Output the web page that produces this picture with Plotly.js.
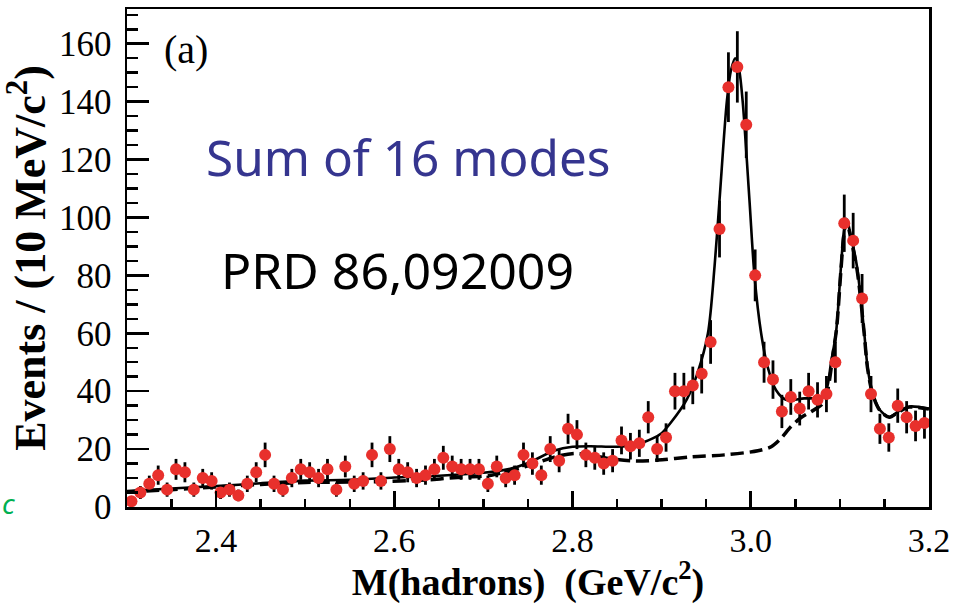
<!DOCTYPE html>
<html>
<head>
<meta charset="utf-8">
<script src="https://cdn.plot.ly/plotly-3.0.1.min.js"></script>
<style>html,body{margin:0;padding:0;background:#fff;}#chart{width:955px;height:604px;}</style>
</head>
<body>
<div id="chart"></div>
<script>
// Bin centres (10 MeV bins from 2.30 to 3.20 GeV/c^2)
const binCenters = [
 2.305,2.315,2.325,2.335,2.345,2.355,2.365,2.375,2.385,2.395,
 2.405,2.415,2.425,2.435,2.445,2.455,2.465,2.475,2.485,2.495,
 2.505,2.515,2.525,2.535,2.545,2.555,2.565,2.575,2.585,2.595,
 2.605,2.615,2.625,2.635,2.645,2.655,2.665,2.675,2.685,2.695,
 2.705,2.715,2.725,2.735,2.745,2.755,2.765,2.775,2.785,2.795,
 2.805,2.815,2.825,2.835,2.845,2.855,2.865,2.875,2.885,2.895,
 2.905,2.915,2.925,2.935,2.945,2.955,2.965,2.975,2.985,2.995,
 3.005,3.015,3.025,3.035,3.045,3.055,3.065,3.075,3.085,3.095,
 3.105,3.115,3.125,3.135,3.145,3.155,3.165,3.175,3.185,3.195];
// Events per bin
const events = [
 2,5,8,11,6,13,12,6,10,9,
 5,6,4,8,12,18,8,6,10,13,
 12,10,13,6,14,8,9,18,9,20,
 13,12,10,11,13,17,14,13,13,13,
 8,14,10,11,18,15,11,20,16,27,
 25,18,17,15,16,23,21,22,31,20,
 24,40,40,42,46,57,96,145,152,132,
 80,50,44,33,38,34,40,37,39,50,
 98,92,72,39,27,24,35,31,28,29];
// Total fit curve (solid)
const fitX = [2.30,2.35,2.40,2.45,2.50,2.55,2.60,2.65,2.70,2.73,2.75,2.78,2.80,2.82,2.85,2.87,2.89,2.90,2.91,2.928,2.94,2.952,2.9594,2.965,2.9732,2.978,2.9826,2.987,2.991,2.9986,3.0042,3.0117,3.019,3.0285,3.0397,3.06,3.079,3.0826,3.0863,3.090,3.0957,3.1013,3.1045,3.1075,3.1115,3.1193,3.1237,3.1275,3.1311,3.1368,3.145,3.1555,3.1667,3.178,3.20];
const fitY = [5.5,6.4,7.2,8.2,9.1,9.4,10.2,10.8,11.8,13.2,15.2,19.5,20.8,21.0,20.8,21.4,23.7,25.5,29.0,37,46,60,83,106,140,151,155,151,140,106,80,60,48.4,40.3,37,37.5,37.8,39.2,42,49.6,60,83,95,99.5,95,83,71.4,60,48.4,39.2,33.5,31.1,33.2,34.7,34];
// Background curve (dashed)
const bkgX = [2.30,2.35,2.40,2.45,2.50,2.55,2.578,2.634,2.671,2.709,2.7465,2.784,2.8025,2.821,2.84,2.87,2.896,2.933,2.9706,3.008,3.023,3.034,3.045,3.0565,3.0677,3.079,3.0845,3.0885,3.092,3.0965,3.1013,3.1045,3.1075,3.1115,3.1193,3.1237,3.1275,3.1311,3.1368,3.145,3.1555,3.1667,3.178,3.20];
const bkgY = [5.2,6.0,6.9,7.8,8.5,8.6,8.7,9.3,10.2,11.0,13.9,17.6,18.5,17.9,16.8,15.9,16.2,17.3,18.0,19.4,20.8,23.7,27.7,30.9,32.9,35.2,38,44,52,62,82,94,99,94,82,71,59.5,48,39,33.3,31,33,34.5,33.8];

const xTitle = 'M(hadrons)  (GeV/c<sup>2</sup>)';
const yTitle = 'Events / (10 MeV/c<sup>2</sup>)';

const traces = [
 {x: bkgX, y: bkgY, type: 'scatter', mode: 'lines', hoverinfo: 'skip',
  line: {color: '#000', width: 3.5, dash: '13px,6px', shape: 'spline', smoothing: 0.8}},
 {x: fitX, y: fitY, type: 'scatter', mode: 'lines', hoverinfo: 'skip',
  line: {color: '#000', width: 2.6, shape: 'spline', smoothing: 0.8}},
 {x: binCenters, y: events, type: 'scatter', mode: 'markers',
  marker: {color: '#e8302c', size: 12},
  error_y: {type: 'sqrt', visible: true, color: '#000', thickness: 2.8, width: 0}}
];

const serif = 'Liberation Serif, Times New Roman, serif';
const layout = {
 width: 955, height: 604,
 margin: {l: 127, r: 26, t: 9, b: 97},
 paper_bgcolor: '#fff', plot_bgcolor: '#fff',
 showlegend: false,
 xaxis: {
  range: [2.3, 3.2001], tick0: 2.4, dtick: 0.2, tickformat: '.1f',
  ticks: 'inside', ticklen: 16, tickwidth: 2.5, tickcolor: '#000',
  minor: {dtick: 0.05, ticks: 'inside', ticklen: 8, tickwidth: 2.5, tickcolor: '#000', showgrid: false},
  showline: true, linewidth: 2.5, linecolor: '#000', mirror: true,
  showgrid: false, zeroline: false,
  tickfont: {family: serif, size: 34, color: '#000'},
  ticklabelstandoff: 2,
  title: {text: xTitle, font: {family: serif, size: 38, color: '#000', weight: 'bold'}, standoff: 8}
 },
 yaxis: {
  range: [0, 172], tick0: 0, dtick: 20,
  ticks: 'inside', ticklen: 22, tickwidth: 2.5, tickcolor: '#000',
  minor: {dtick: 5, ticks: 'inside', ticklen: 11, tickwidth: 2.5, tickcolor: '#000', showgrid: false},
  showline: true, linewidth: 2.5, linecolor: '#000', mirror: true,
  showgrid: false, zeroline: false,
  tickfont: {family: serif, size: 35, color: '#000'},
  ticklabelstandoff: 6,
  title: {text: yTitle, font: {family: serif, size: 44, color: '#000', weight: 'bold'}, standoff: 0}
 },
 annotations: [
  {xref: 'paper', yref: 'paper', x: 0.044, y: 0.918, xanchor: 'left', yanchor: 'middle', showarrow: false,
   text: '(a)', font: {family: serif, size: 40, color: '#000'}},
  {xref: 'paper', yref: 'paper', x: 0.096, y: 0.703, xanchor: 'left', yanchor: 'middle', showarrow: false,
   text: 'Sum of 16 modes', font: {family: 'Noto Sans, sans-serif', size: 49.5, color: '#35358f'}},
  {xref: 'paper', yref: 'paper', x: 0.115, y: 0.476, xanchor: 'left', yanchor: 'middle', showarrow: false,
   text: 'PRD 86,092009', font: {family: 'Noto Sans, sans-serif', size: 50, color: '#000'}},
  {xref: 'paper', yref: 'paper', x: -0.158, y: 0.008, xanchor: 'left', yanchor: 'middle', showarrow: false,
   text: 'c', font: {family: 'Noto Sans, sans-serif', size: 28, color: '#00b050', style: 'italic'}}
 ]
};

Plotly.newPlot('chart', traces, layout, {displayModeBar: false, staticPlot: true});
</script>
</body>
</html>
